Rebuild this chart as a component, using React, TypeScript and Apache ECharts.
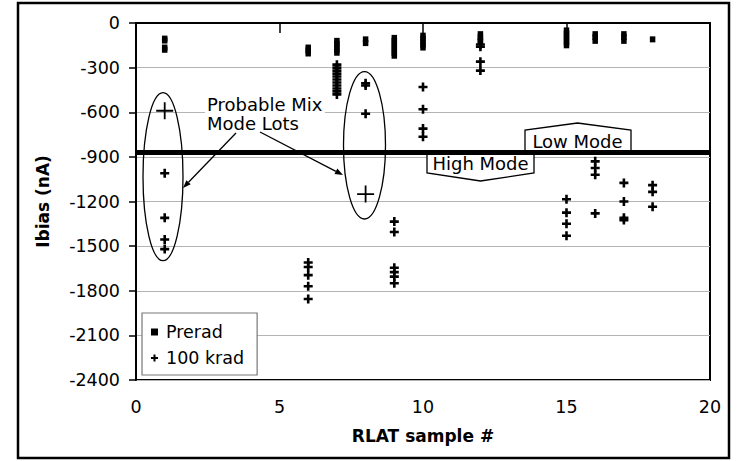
import React, { useEffect, useRef } from "react";
import * as echarts from "echarts";

// ---- data ----
const samples = [1, 6, 7, 8, 9, 10, 12, 15, 16, 17, 18];
const preradValues: number[][] = [
  [-105, -118, -165, -180],
  [-165, -185, -205],
  [-120, -140, -160, -180, -200],
  [-110, -135],
  [-100, -120, -140, -160, -180, -200, -220],
  [-85, -105, -125, -145, -165],
  [-75, -95, -115, -125],
  [-50, -70, -90, -110, -130, -150],
  [-75, -95, -120],
  [-75, -95, -120],
  [-110],
];
const krad100Values: number[][] = [
  [-1010, -1310, -1455, -1520],
  [-1610, -1640, -1695, -1770, -1855],
  [-280, -300, -320, -340, -360, -380, -400, -420, -440, -460, -480],
  [-405, -420, -610],
  [-1335, -1405, -1645, -1675, -1705, -1750],
  [-430, -580, -710, -765],
  [-145, -160, -260, -320],
  [-1185, -1275, -1350, -1430],
  [-930, -975, -1020, -1280],
  [-1075, -1200, -1310, -1325],
  [-1090, -1135, -1235],
];
const mixModeX = [1, 8];
const mixModeY = [-590, -1150];
const modeBoundary = -870;
const xTicks = { min: 0, max: 20, interval: 5 };
const yTicks = { min: -2400, max: 0, interval: 300 };

const FONT = "DejaVu Sans";
const plusSmall = "path://M3.2,0H5.8V3.2H9V5.8H5.8V9H3.2V5.8H0V3.2H3.2Z";
const plusBig = "path://M7.6,0H9.4V7.6H17V9.4H9.4V17H7.6V9.4H0V7.6H7.6Z";
const squareIcon = "path://M0,0H6V6H0Z";

function flatten(values: number[][]) {
  const out: number[][] = [];
  samples.forEach((s, i) => values[i].forEach((v) => out.push([s, v])));
  return out;
}

export default function App() {
  const ref = useRef<HTMLDivElement>(null);
  useEffect(() => {
    if (!ref.current) return;
    const chart = echarts.init(ref.current, null, { renderer: "svg" });
    const arrowLine = { stroke: "#000", lineWidth: 1.3 };
    const markStyle = { color: "#000", opacity: 1 };
    chart.setOption({
      animation: false,
      backgroundColor: "#fff",
      grid: {
        left: 136,
        top: 23,
        width: 574,
        height: 357,
        show: true,
        borderColor: "#000",
        borderWidth: 2,
      },
      xAxis: {
        type: "value",
        min: xTicks.min,
        max: xTicks.max,
        interval: xTicks.interval,
        name: "RLAT sample #",
        nameLocation: "middle",
        nameGap: 47,
        nameTextStyle: { fontFamily: FONT, fontSize: 17, fontWeight: "bold", color: "#000" },
        axisLine: { lineStyle: { color: "#000", width: 2 } },
        axisTick: { show: true, length: 10, lineStyle: { color: "#000", width: 1.5 } },
        axisLabel: { fontFamily: FONT, fontSize: 17.5, color: "#000", margin: 18 },
        splitLine: { show: false },
      },
      yAxis: {
        type: "value",
        min: yTicks.min,
        max: yTicks.max,
        interval: yTicks.interval,
        name: "Ibias (nA)",
        nameLocation: "middle",
        nameGap: 85,
        nameTextStyle: { fontFamily: FONT, fontSize: 17, fontWeight: "bold", color: "#000" },
        axisLine: { show: true, lineStyle: { color: "#000", width: 2 } },
        axisTick: { show: true, length: 7, lineStyle: { color: "#000", width: 1.5 } },
        axisLabel: {
          fontFamily: FONT,
          fontSize: 17.5,
          color: "#000",
          margin: 16,
          formatter: (v: number) => String(v),
        },
        splitLine: { show: true, lineStyle: { color: "#b4b4b4", width: 1.2 } },
      },
      legend: {
        orient: "vertical",
        left: 142,
        top: 313,
        itemWidth: 7,
        itemHeight: 7,
        itemGap: 8,
        padding: [10, 13, 8, 9],
        borderColor: "#777",
        borderWidth: 1.2,
        backgroundColor: "#fff",
        textStyle: { fontFamily: FONT, fontSize: 17.5, color: "#000", padding: [0, 0, 0, 3] },
        data: [
          { name: "Prerad", icon: squareIcon, itemStyle: markStyle },
          { name: "100 krad", icon: plusSmall, itemStyle: markStyle },
        ],
      },
      series: [
        {
          name: "Prerad",
          type: "scatter",
          symbol: "rect",
          symbolSize: [5.5, 6],
          itemStyle: markStyle,
          data: flatten(preradValues),
          markLine: {
            silent: true,
            symbol: ["none", "none"],
            label: { show: false },
            lineStyle: { color: "#000", width: 5, type: "solid", opacity: 1 },
            data: [{ yAxis: modeBoundary }],
          },
        },
        {
          name: "100 krad",
          type: "scatter",
          symbol: plusSmall,
          symbolSize: 9,
          itemStyle: markStyle,
          data: flatten(krad100Values),
        },
        {
          name: "Probable mix mode",
          type: "scatter",
          symbol: plusBig,
          symbolSize: 17,
          itemStyle: markStyle,
          data: mixModeX.map((x, i) => [x, mixModeY[i]]),
        },
      ],
      graphic: [
        {
          type: "rect",
          z: 100,
          shape: { x: 18, y: 3, width: 711, height: 455 },
          style: { fill: "none", stroke: "#000", lineWidth: 2.5 },
        },
        {
          type: "rect",
          z: 1,
          shape: { x: 205, y: 94, width: 120, height: 38 },
          style: { fill: "#fff" },
        },
        {
          type: "text",
          z: 20,
          x: 207,
          y: 104,
          style: { text: "Probable Mix", font: `18px '${FONT}'`, fill: "#000", verticalAlign: "middle" },
        },
        {
          type: "text",
          z: 20,
          x: 207,
          y: 123,
          style: { text: "Mode Lots", font: `18px '${FONT}'`, fill: "#000", verticalAlign: "middle" },
        },
        {
          type: "ellipse",
          z: 20,
          shape: { cx: 163, cy: 176.7, rx: 20, ry: 84 },
          style: { fill: "none", stroke: "#000", lineWidth: 1.3 },
        },
        {
          type: "ellipse",
          z: 20,
          shape: { cx: 364.5, cy: 145.3, rx: 21, ry: 73.7 },
          style: { fill: "none", stroke: "#000", lineWidth: 1.3 },
        },
        { type: "line", z: 20, shape: { x1: 236, y1: 133, x2: 188.5, y2: 182.2 }, style: arrowLine },
        {
          type: "polygon",
          z: 20,
          shape: { points: [[183, 188], [190.7, 184.3], [186.4, 180.2]] },
          style: { fill: "#000" },
        },
        { type: "line", z: 20, shape: { x1: 260, y1: 132, x2: 335.9, y2: 171.3 }, style: arrowLine },
        {
          type: "polygon",
          z: 20,
          shape: { points: [[343, 175], [334.5, 174.0], [337.3, 168.6]] },
          style: { fill: "#000" },
        },
        {
          type: "polygon",
          z: 1,
          shape: { points: [[525, 151], [525, 130], [577.5, 123], [631, 130], [631, 151]] },
          style: { fill: "#fff", stroke: "#000", lineWidth: 1.3 },
        },
        {
          type: "text",
          z: 20,
          x: 577.5,
          y: 141.5,
          style: { text: "Low Mode", font: `18px '${FONT}'`, fill: "#000", align: "center", verticalAlign: "middle" },
        },
        {
          type: "polygon",
          z: 1,
          shape: { points: [[427, 153], [427, 173], [480.5, 181], [534, 173], [534, 153]] },
          style: { fill: "#fff", stroke: "#000", lineWidth: 1.3 },
        },
        {
          type: "text",
          z: 20,
          x: 480.5,
          y: 163.5,
          style: { text: "High Mode", font: `18px '${FONT}'`, fill: "#000", align: "center", verticalAlign: "middle" },
        },
      ],
    });
    return () => chart.dispose();
  }, []);
  return (
    <div
      ref={ref}
      style={{ position: "fixed", left: 0, top: 0, width: 740, height: 461, background: "#fff" }}
    />
  );
}
